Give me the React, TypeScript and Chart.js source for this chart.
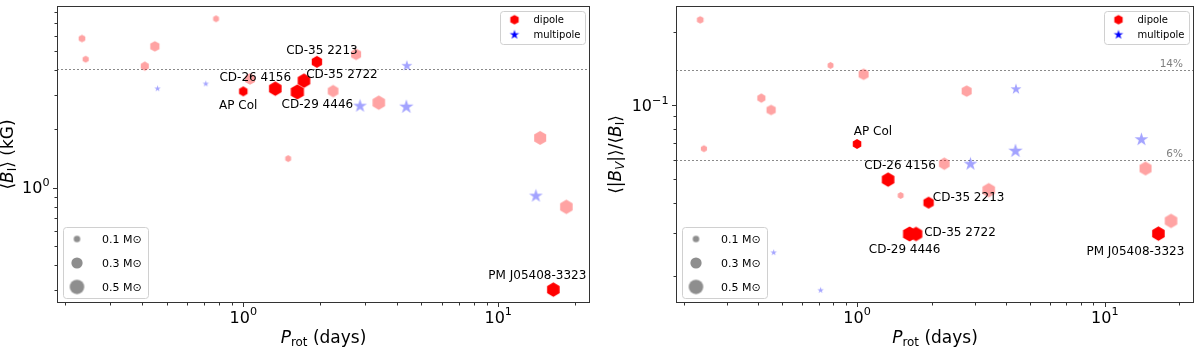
import React, { useEffect, useRef } from 'react';
import { Chart, registerables } from 'chart.js';

Chart.register(...registerables);

const FONT = '"DejaVu Sans", "Liberation Sans", sans-serif';

// ---------------- data ----------------
const starNames = ['', '', '', '', '', '', '', '', 'AP Col', 'CD-26 4156', 'CD-29 4446', 'CD-35 2722', 'CD-35 2213', '', '', '', '', '', '', '', '', '', '', 'PM J05408-3323'];
const rotationPeriod = [0.233, 0.241, 0.450, 0.411, 0.782, 0.461, 0.713, 1.063, 1.0, 1.335, 1.63, 1.73, 1.945, 2.77, 4.38, 2.25, 2.87, 3.40, 4.36, 14.6, 1.50, 14.05, 18.5, 16.45];
const meanBI = [5.82, 4.56, 5.31, 4.20, 7.35, 3.22, 3.41, 3.61, 3.12, 3.22, 3.10, 3.54, 4.42, 4.83, 4.22, 3.13, 2.62, 2.73, 2.60, 1.80, 1.41, 0.906, 0.797, 0.30];
const bvOverBI = [0.2235, 0.0665, 0.0957, 0.107, 0.1456, 0.025, 0.01754, 0.1339, 0.0695, 0.0497, 0.0298, 0.0298, 0.040, 0.1143, 0.1164, 0.0577, 0.0575, 0.045, 0.0651, 0.0552, 0.0428, 0.0724, 0.0337, 0.0299];
const stellarMass = [0.14, 0.12, 0.27, 0.21, 0.11, 0.11, 0.11, 0.32, 0.23, 0.5, 0.55, 0.5, 0.34, 0.32, 0.32, 0.36, 0.5, 0.5, 0.55, 0.46, 0.11, 0.5, 0.5, 0.5];
const topology = ['dipole', 'dipole', 'dipole', 'dipole', 'dipole', 'multipole', 'multipole', 'dipole', 'dipole', 'dipole', 'dipole', 'dipole', 'dipole', 'dipole', 'multipole', 'dipole', 'multipole', 'dipole', 'multipole', 'dipole', 'dipole', 'multipole', 'dipole', 'dipole'];

const xRange = [0.186, 22.9];
const leftYRange = [0.256, 8.55];
const rightYRange = [0.01556, 0.2546];

const xMajorTicks = [1, 10];
const xMajorExponents = ['0', '1'];
const xMinorTicks = [0.2, 0.3, 0.4, 0.5, 0.6, 0.7, 0.8, 0.9, 2, 3, 4, 5, 6, 7, 8, 9, 20];
const leftYMajorTicks = [1];
const leftYMajorExponents = ['0'];
const leftYMinorTicks = [0.3, 0.4, 0.5, 0.6, 0.7, 0.8, 0.9, 2, 3, 4, 5, 6, 7, 8];
const rightYMajorTicks = [0.1];
const rightYMajorExponents = ['\u22121'];
const rightYMinorTicks = [0.02, 0.03, 0.04, 0.05, 0.06, 0.07, 0.08, 0.09, 0.2];

const leftRefLines = [4.04];
const leftRefLabels: string[] = [];
const rightRefLines = [0.14, 0.06];
const rightRefLabels = ['14%', '6%'];

const topologyLegend = ['dipole', 'multipole'];
const massLegendValues = [0.1, 0.3, 0.5];
const massLegendLabels = ['0.1 M\u2299', '0.3 M\u2299', '0.5 M\u2299'];

// ---------------- styling ----------------
const RED = '#ff0000';
const FAINT_RED = 'rgba(255,0,0,0.36)';
const FAINT_BLUE = 'rgba(0,0,255,0.36)';
const AXIS = '#333333';

const leftLabelOffsets: Record<string, [number, number]> = {
  'AP Col': [-5, 13],
  'CD-26 4156': [-20, -12],
  'CD-29 4446': [20, 12],
  'CD-35 2722': [38, -7],
  'CD-35 2213': [5, -12],
  'PM J05408-3323': [-16, -15],
};
const rightLabelOffsets: Record<string, [number, number]> = {
  'AP Col': [16, -13],
  'CD-26 4156': [12, -15],
  'CD-29 4446': [-5, 15],
  'CD-35 2722': [44, -2],
  'CD-35 2213': [40, -6],
  'PM J05408-3323': [-23, 17],
};

function markerDiameter(m: number) {
  return 20.5 * Math.sqrt(m);
}

const markerCache = new Map<string, HTMLCanvasElement>();
function makeMarker(shape: 'hex' | 'star' | 'circle', color: string, d: number): HTMLCanvasElement {
  const key = `${shape}|${color}|${d.toFixed(2)}`;
  const cached = markerCache.get(key);
  if (cached) return cached;
  const s = Math.ceil(d) + 4;
  const c = document.createElement('canvas');
  c.width = s;
  c.height = s;
  const g = c.getContext('2d')!;
  const cx = s / 2;
  const cy = s / 2;
  const r = d / 2;
  g.fillStyle = color;
  g.beginPath();
  if (shape === 'hex') {
    for (let k = 0; k < 6; k++) {
      const a = (-90 + 60 * k) * Math.PI / 180;
      const px = cx + r * Math.cos(a);
      const py = cy + r * Math.sin(a);
      if (k === 0) g.moveTo(px, py); else g.lineTo(px, py);
    }
  } else if (shape === 'star') {
    const ri = r * 0.381966;
    for (let k = 0; k < 10; k++) {
      const a = (-90 + 36 * k) * Math.PI / 180;
      const rr = k % 2 === 0 ? r : ri;
      const px = cx + rr * Math.cos(a);
      const py = cy + rr * Math.sin(a);
      if (k === 0) g.moveTo(px, py); else g.lineTo(px, py);
    }
  } else {
    g.arc(cx, cy, r, 0, Math.PI * 2);
  }
  g.closePath();
  g.fill();
  markerCache.set(key, c);
  return c;
}

type Seg = { t: string; it?: boolean; sub?: boolean; sup?: boolean };

function segFont(seg: Seg, size: number) {
  const s = seg.sub || seg.sup ? size * 0.7 : size;
  return `${seg.it ? 'italic ' : ''}${s}px ${FONT}`;
}
function richWidth(ctx: CanvasRenderingContext2D, segs: Seg[], size: number) {
  let w = 0;
  for (const s of segs) {
    ctx.font = segFont(s, size);
    w += ctx.measureText(s.t).width;
  }
  return w;
}
function drawRich(ctx: CanvasRenderingContext2D, segs: Seg[], size: number, x: number, y: number, align: 'left' | 'center' | 'right', rotate = false, color = '#000') {
  ctx.save();
  ctx.translate(x, y);
  if (rotate) ctx.rotate(-Math.PI / 2);
  const w = richWidth(ctx, segs, size);
  let cx = align === 'center' ? -w / 2 : align === 'right' ? -w : 0;
  ctx.fillStyle = color;
  ctx.textBaseline = 'alphabetic';
  ctx.textAlign = 'left';
  for (const s of segs) {
    ctx.font = segFont(s, size);
    const dy = s.sub ? size * 0.16 : s.sup ? -size * 0.45 : 0;
    ctx.fillText(s.t, cx, dy);
    cx += ctx.measureText(s.t).width;
  }
  ctx.restore();
}

function roundRect(ctx: CanvasRenderingContext2D, x: number, y: number, w: number, h: number, r: number) {
  ctx.beginPath();
  ctx.moveTo(x + r, y);
  ctx.lineTo(x + w - r, y);
  ctx.quadraticCurveTo(x + w, y, x + w, y + r);
  ctx.lineTo(x + w, y + h - r);
  ctx.quadraticCurveTo(x + w, y + h, x + w - r, y + h);
  ctx.lineTo(x + r, y + h);
  ctx.quadraticCurveTo(x, y + h, x, y + h - r);
  ctx.lineTo(x, y + r);
  ctx.quadraticCurveTo(x, y, x + r, y);
  ctx.closePath();
}

type PanelCfg = {
  yValues: number[];
  yRange: number[];
  yMajor: number[];
  yMajorExp: string[];
  yMinor: number[];
  refLines: number[];
  refLabels: string[];
  yTitle: Seg[];
  yTitleX: number;
  labelOffsets: Record<string, [number, number]>;
  padding: { left: number; right: number; top: number; bottom: number };
};

const xTitle: Seg[] = [{ t: 'P', it: true }, { t: 'rot', sub: true }, { t: ' (days)' }];

const leftCfg: PanelCfg = {
  yValues: meanBI,
  yRange: leftYRange,
  yMajor: leftYMajorTicks,
  yMajorExp: leftYMajorExponents,
  yMinor: leftYMinorTicks,
  refLines: leftRefLines,
  refLabels: leftRefLabels,
  yTitle: [{ t: '\u27E8' }, { t: 'B', it: true }, { t: 'I', sub: true }, { t: '\u27E9 (kG)' }],
  yTitleX: 13,
  labelOffsets: leftLabelOffsets,
  padding: { left: 57, right: 10, top: 1, bottom: 44 },
};

const rightCfg: PanelCfg = {
  yValues: bvOverBI,
  yRange: rightYRange,
  yMajor: rightYMajorTicks,
  yMajorExp: rightYMajorExponents,
  yMinor: rightYMinorTicks,
  refLines: rightRefLines,
  refLabels: rightRefLabels,
  yTitle: [
    { t: '\u27E8|' }, { t: 'B', it: true }, { t: 'V', sub: true, it: true },
    { t: '|\u27E9/\u27E8' }, { t: 'B', it: true }, { t: 'I', sub: true }, { t: '\u27E9' },
  ],
  yTitleX: 21,
  labelOffsets: rightLabelOffsets,
  padding: { left: 76, right: 2, top: 3, bottom: 44 },
};

function makePlugin(cfg: PanelCfg) {
  return {
    id: 'panelDecor',
    beforeDatasetsDraw(chart: any) {
      const { ctx, chartArea: a, scales } = chart;
      const y = scales.y;
      ctx.save();
      ctx.strokeStyle = '#8a8a8a';
      ctx.lineWidth = 1;
      ctx.setLineDash([2, 2]);
      cfg.refLines.forEach((v) => {
        const py = Math.round(y.getPixelForValue(v)) + 0.5;
        ctx.beginPath();
        ctx.moveTo(a.left, py);
        ctx.lineTo(a.right, py);
        ctx.stroke();
      });
      ctx.setLineDash([]);
      ctx.restore();
    },
    afterDatasetsDraw(chart: any) {
      const { ctx, chartArea: a, scales } = chart;
      const x = scales.x;
      const y = scales.y;
      ctx.save();

      // reference line labels
      cfg.refLabels.forEach((lab, i) => {
        const py = y.getPixelForValue(cfg.refLines[i]);
        ctx.font = `10.5px ${FONT}`;
        ctx.fillStyle = '#808080';
        ctx.textAlign = 'right';
        ctx.textBaseline = 'alphabetic';
        ctx.fillText(lab, a.right - 11, py - 2.5);
      });

      // star labels
      ctx.font = `12px ${FONT}`;
      ctx.fillStyle = '#000';
      ctx.textAlign = 'center';
      ctx.textBaseline = 'alphabetic';
      starNames.forEach((name, i) => {
        if (!name) return;
        const off = cfg.labelOffsets[name];
        const px = x.getPixelForValue(rotationPeriod[i]);
        const py = y.getPixelForValue(cfg.yValues[i]);
        ctx.fillText(name, px + off[0], py + off[1] + 4.4);
      });

      // frame
      ctx.strokeStyle = AXIS;
      ctx.lineWidth = 1;
      ctx.strokeRect(a.left + 0.5, a.top + 0.5, a.right - a.left - 1, a.bottom - a.top - 1);

      // ticks
      const xt = (v: number, len: number) => {
        const px = Math.round(x.getPixelForValue(v)) + 0.5;
        ctx.beginPath();
        ctx.moveTo(px, a.bottom);
        ctx.lineTo(px, a.bottom + len);
        ctx.stroke();
      };
      const yt = (v: number, len: number) => {
        const py = Math.round(y.getPixelForValue(v)) + 0.5;
        ctx.beginPath();
        ctx.moveTo(a.left, py);
        ctx.lineTo(a.left - len, py);
        ctx.stroke();
      };
      xMajorTicks.forEach((v) => xt(v, 4));
      xMinorTicks.forEach((v) => xt(v, 2.5));
      cfg.yMajor.forEach((v) => yt(v, 4));
      cfg.yMinor.forEach((v) => yt(v, 2.5));

      // tick labels
      xMajorTicks.forEach((v, i) => {
        drawRich(ctx, [{ t: '10' }, { t: xMajorExponents[i], sup: true }], 16, x.getPixelForValue(v), a.bottom + 19.5, 'center');
      });
      cfg.yMajor.forEach((v, i) => {
        drawRich(ctx, [{ t: '10' }, { t: cfg.yMajorExp[i], sup: true }], 16, a.left - 7.5, y.getPixelForValue(v) + 5.8, 'right');
      });

      // axis titles
      drawRich(ctx, xTitle, 17, (a.left + a.right) / 2, 343, 'center');
      drawRich(ctx, cfg.yTitle, 17, cfg.yTitleX, (a.top + a.bottom) / 2, 'center', true);

      // topology legend (top right)
      const bw = 85;
      const bh = 33;
      const bx = a.right - 5 - bw;
      const by = a.top + 5;
      ctx.fillStyle = 'rgba(255,255,255,0.85)';
      roundRect(ctx, bx + 0.5, by + 0.5, bw, bh, 3);
      ctx.fill();
      ctx.strokeStyle = '#d0d0d0';
      ctx.stroke();
      const hexImg = makeMarker('hex', RED, 9.6);
      const starImg = makeMarker('star', '#0000ff', 10);
      const rows = [by + 8.7, by + 23.7];
      [hexImg, starImg].forEach((img, i) => {
        ctx.drawImage(img, bx + 14.5 - img.width / 2, rows[i] - img.height / 2);
        ctx.font = `10px ${FONT}`;
        ctx.fillStyle = '#000';
        ctx.textAlign = 'left';
        ctx.textBaseline = 'alphabetic';
        ctx.fillText(topologyLegend[i], bx + 33.5, rows[i] + 3.6);
      });

      // mass legend (bottom left)
      const mw = 85;
      const mh = 71;
      const mx = a.left + 6;
      const my = a.bottom - 5 - mh;
      ctx.fillStyle = 'rgba(255,255,255,0.85)';
      roundRect(ctx, mx + 0.5, my + 0.5, mw, mh, 3);
      ctx.fill();
      ctx.strokeStyle = '#d0d0d0';
      ctx.stroke();
      const mrows = [my + 12, my + 36, my + 60];
      massLegendValues.forEach((m, i) => {
        const img = makeMarker('circle', '#8e8e8e', markerDiameter(m));
        ctx.drawImage(img, mx + 14 - img.width / 2, mrows[i] - img.height / 2);
        ctx.font = `11px ${FONT}`;
        ctx.fillStyle = '#000';
        ctx.textAlign = 'left';
        ctx.textBaseline = 'alphabetic';
        ctx.fillText(massLegendLabels[i], mx + 39, mrows[i] + 4);
      });

      ctx.restore();
    },
  };
}

function buildDatasets(cfg: PanelCfg) {
  const groups: { idx: number[] }[] = [
    { idx: [] }, // highlighted (drawn last / on top)
    { idx: [] }, // faint multipole
    { idx: [] }, // faint dipole
  ];
  starNames.forEach((name, i) => {
    if (name) groups[0].idx.push(i);
    else if (topology[i] === 'multipole') groups[1].idx.push(i);
    else groups[2].idx.push(i);
  });
  return groups.map((g, gi) => ({
    label: ['highlighted', 'multipole', 'dipole'][gi],
    data: g.idx.map((i) => ({ x: rotationPeriod[i], y: cfg.yValues[i] })),
    pointStyle: g.idx.map((i) => {
      const d = markerDiameter(stellarMass[i]);
      if (gi === 0) return makeMarker(topology[i] === 'multipole' ? 'star' : 'hex', RED, d);
      if (topology[i] === 'multipole') return makeMarker('star', FAINT_BLUE, d);
      return makeMarker('hex', FAINT_RED, d);
    }),
    pointRadius: 5,
    showLine: false,
  }));
}

function Panel({ cfg, left }: { cfg: PanelCfg; left: number }) {
  const ref = useRef<HTMLCanvasElement>(null);
  useEffect(() => {
    const chart = new Chart(ref.current!, {
      type: 'scatter',
      data: { datasets: buildDatasets(cfg) as any },
      options: {
        responsive: false,
        animation: false,
        devicePixelRatio: 1,
        events: [],
        layout: { padding: cfg.padding },
        plugins: { legend: { display: false }, tooltip: { enabled: false } },
        scales: {
          x: { type: 'logarithmic', min: xRange[0], max: xRange[1], display: false },
          y: { type: 'logarithmic', min: cfg.yRange[0], max: cfg.yRange[1], display: false },
        },
      },
      plugins: [makePlugin(cfg) as any],
    });
    return () => chart.destroy();
  }, []);
  return (
    <canvas
      ref={ref}
      width={600}
      height={347}
      style={{ position: 'absolute', left, top: 0, width: 600, height: 347 }}
    />
  );
}

export default function App() {
  return (
    <div style={{ position: 'fixed', left: 0, top: 0, width: 1200, height: 347, background: '#fff' }}>
      <Panel cfg={leftCfg} left={0} />
      <Panel cfg={rightCfg} left={600} />
    </div>
  );
}
